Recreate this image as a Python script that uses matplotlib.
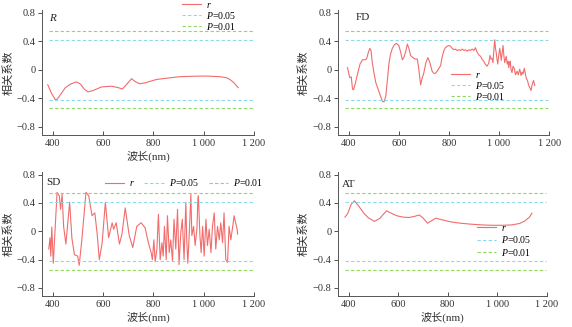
import matplotlib
matplotlib.use("Agg")
import matplotlib.pyplot as plt

plt.rcParams['font.family'] = ['Liberation Serif', 'Noto Sans CJK SC']
plt.rcParams['mathtext.fontset'] = 'custom'
plt.rcParams['mathtext.it'] = 'Liberation Serif:italic'
plt.rcParams['mathtext.rm'] = 'Liberation Serif'
plt.rcParams['axes.unicode_minus'] = True

# 数据
r_wl = [380, 395, 410, 418, 430, 450, 470, 494, 510, 525,
        540, 560, 594, 634, 660, 677, 695, 713, 730, 746,
        770, 813, 860, 905, 960, 1012, 1065, 1090, 1104, 1120,
        1137]
r_r = [-0.21, -0.33, -0.42, -0.41, -0.35, -0.25, -0.20, -0.17, -0.20, -0.27,
       -0.31, -0.29, -0.24, -0.23, -0.25, -0.27, -0.20, -0.125, -0.17, -0.196,
       -0.18, -0.135, -0.115, -0.097, -0.09, -0.088, -0.097, -0.11, -0.135, -0.18,
       -0.25]

fd_wl = [395, 404, 410, 415, 419, 427, 435, 445, 455, 463,
         471, 478, 484, 489, 494, 500, 508, 520, 534, 541,
         548, 554, 561, 567, 574, 582, 590, 600, 607, 614,
         620, 627, 634, 640, 647, 653, 660, 667, 674, 680,
         687, 693, 700, 708, 716, 724, 733, 740, 746, 755,
         767, 773, 780, 786, 793, 800, 806, 813, 820, 826,
         833, 840, 846, 853, 860, 866, 873, 880, 886, 893,
         900, 906, 912, 919, 926, 932, 939, 945, 952, 959,
         964, 968, 972, 976, 980, 983, 986, 989, 992, 995,
         999, 1003, 1006, 1009, 1013, 1016, 1020, 1023, 1026, 1029,
         1033, 1036, 1039, 1042, 1045, 1048, 1052, 1056, 1061, 1066,
         1072, 1077, 1083, 1088, 1092, 1096, 1101, 1105, 1109, 1114,
         1118, 1123, 1128, 1133, 1138, 1143]
fd_r = [0.03, -0.11, -0.10, -0.27, -0.28, -0.18, -0.06, 0.08, 0.14, 0.14,
        0.15, 0.24, 0.30, 0.27, 0.10, -0.03, -0.18, -0.30, -0.44, -0.45,
        -0.37, -0.15, 0.10, 0.22, 0.30, 0.35, 0.37, 0.34, 0.25, 0.14,
        0.17, 0.25, 0.36, 0.30, 0.20, 0.18, 0.16, 0.15, 0.15, 0.00,
        -0.21, -0.12, -0.04, 0.10, 0.17, 0.10, -0.02, -0.05, -0.05, -0.01,
        0.06, 0.18, 0.27, 0.31, 0.33, 0.34, 0.33, 0.30, 0.28, 0.29,
        0.27, 0.28, 0.27, 0.29, 0.27, 0.28, 0.26, 0.28, 0.27, 0.29,
        0.27, 0.31, 0.25, 0.21, 0.19, 0.15, 0.12, 0.08, 0.05, 0.09,
        0.20, 0.15, 0.16, 0.10, 0.30, 0.42, 0.30, 0.24, 0.15, 0.08,
        0.20, 0.30, 0.22, 0.13, 0.25, 0.34, 0.18, 0.10, 0.15, 0.19,
        0.08, 0.12, 0.03, 0.09, 0.12, 0.00, -0.04, 0.05, 0.02, -0.07,
        -0.02, -0.07, 0.01, -0.08, -0.03, -0.06, 0.02, -0.05, -0.12, -0.15,
        -0.21, -0.25, -0.29, -0.20, -0.15, -0.22]

sd_wl = [384, 389, 392, 396, 402, 411, 417, 426, 431, 437,
         443, 452, 467, 476, 486, 499, 505, 516, 532, 543,
         556, 567, 576, 585, 596, 609, 622, 636, 642, 652,
         665, 675, 688, 704, 718, 734, 751, 767, 780, 791,
         796, 802, 807, 814, 820, 827, 834, 839, 844, 851,
         856, 863, 869, 876, 882, 889, 896, 902, 909, 915,
         922, 929, 933, 937, 944, 949, 953, 960, 966, 973,
         977, 979, 985, 990, 996, 1002, 1009, 1015, 1022, 1029,
         1035, 1042, 1048, 1055, 1062, 1068, 1075, 1081, 1088, 1095,
         1101, 1108, 1114, 1121, 1127, 1133, 1135]
sd_r = [-0.25, -0.09, -0.35, 0.06, -0.45, 0.15, 0.55, 0.50, 0.31, 0.52,
        0.07, -0.18, 0.41, -0.10, -0.33, -0.35, -0.48, -0.10, 0.55, 0.50,
        0.22, 0.26, -0.02, -0.40, -0.17, 0.41, -0.09, 0.12, 0.03, 0.12,
        -0.18, -0.04, 0.33, -0.06, -0.23, 0.07, 0.12, 0.05, -0.16, -0.30,
        -0.40, -0.12, -0.43, -0.25, 0.24, -0.40, -0.16, -0.35, 0.07, -0.40,
        0.22, -0.30, -0.12, -0.42, 0.17, -0.25, 0.31, -0.47, -0.02, 0.17,
        -0.40, 0.41, -0.16, -0.45, 0.07, 0.52, -0.06, 0.07, -0.20, 0.03,
        0.45, 0.50, -0.06, -0.30, 0.07, -0.35, 0.17, -0.20, 0.03, -0.30,
        0.07, 0.26, -0.25, 0.07, -0.12, 0.12, -0.16, 0.26, -0.40, -0.44,
        0.07, -0.12, 0.03, 0.22, 0.12, 0.03, -0.04]

at_wl = [385, 396, 410, 423, 440, 461, 480, 504, 525, 553,
         575, 596, 620, 644, 665, 685, 700, 719, 735, 752,
         780, 813, 850, 895, 940, 976, 1020, 1058, 1090, 1112,
         1130, 1140]
at_r = [0.20, 0.25, 0.38, 0.43, 0.36, 0.256, 0.19, 0.14, 0.18, 0.29,
        0.25, 0.218, 0.20, 0.195, 0.21, 0.23, 0.19, 0.114, 0.15, 0.185,
        0.16, 0.133, 0.115, 0.10, 0.09, 0.085, 0.085, 0.09, 0.11, 0.147,
        0.20, 0.256]

p05 = 0.42
p01 = 0.54
line_x = [385, 1195]

xticks = [400, 600, 800, 1000, 1200]
xticklabels = ['400', '600', '800', '1 000', '1 200']
yticks = [-0.8, -0.4, 0, 0.4, 0.8]
yticklabels = ['\u22120.8', '\u22120.4', '0', '0.4', '0.8']

RED = '#f26c6c'
CYAN = '#8adbe6'
GREEN = '#94d862'

fig = plt.figure(figsize=(5.72, 3.27), dpi=100)

panels = [
    # name, x, y, 位置, 标签位置, legend设置, ylabel位置, 有无xlabel
    ('$R$', r_wl, r_r, [0.0734, 0.5872, 0.3706, 0.3807], (0.035, 0.94),
     dict(ncol=1, loc='upper left', bbox_to_anchor=(0.66, 1.08), labelspacing=0), -0.135, True),
    ('FD', fd_wl, fd_r, [0.5909, 0.5872, 0.3690, 0.3807], (0.085, 0.94),
     dict(ncol=1, loc='upper left', bbox_to_anchor=(0.535, 0.515), labelspacing=0), -0.14, False),
    ('SD', sd_wl, sd_r, [0.0734, 0.0948, 0.3706, 0.3777], (0.022, 0.915),
     dict(ncol=3, loc='center left', bbox_to_anchor=(0.295, 0.915), labelspacing=0), -0.135, True),
    ('AT', at_wl, at_r, [0.5909, 0.0948, 0.3650, 0.3777], (0.02, 0.90),
     dict(ncol=1, loc='upper left', bbox_to_anchor=(0.665, 0.585), labelspacing=0.15), -0.14, True),
]

for name, xs, ys, pos, lab_pos, leg_kw, ylab_x, show_xlabel in panels:
    ax = fig.add_axes(pos)
    ax.plot(xs, ys, color=RED, lw=0.8, label='$r$')
    ax.plot(line_x, [p05, p05], color=CYAN, lw=0.8, ls=(0, (3, 2)), label='$P$=0.05')
    ax.plot(line_x, [-p05, -p05], color=CYAN, lw=0.8, ls=(0, (3, 2)))
    ax.plot(line_x, [p01, p01], color=GREEN, lw=0.8, ls=(0, (3, 2)), label='$P$=0.01')
    ax.plot(line_x, [-p01, -p01], color=GREEN, lw=0.8, ls=(0, (3, 2)))

    ax.set_xlim(357, 1200)
    ax.set_ylim(-0.913, 0.83)
    ax.set_xticks(xticks)
    ax.set_xticklabels(xticklabels)
    ax.set_yticks(yticks)
    ax.set_yticklabels(yticklabels)
    ax.tick_params(axis='x', direction='in', length=3, width=0.6, labelsize=7.5, pad=3, colors='#333333')
    ax.tick_params(axis='y', direction='out', length=3, width=0.6, labelsize=7.5, pad=1.5, colors='#333333')
    for s in ['top', 'right']:
        ax.spines[s].set_visible(False)
    for s in ['left', 'bottom']:
        ax.spines[s].set_linewidth(0.7)
        ax.spines[s].set_color('#555555')

    ax.set_ylabel('相关系数', fontsize=8, color='#333333')
    ax.yaxis.set_label_coords(ylab_x, 0.5)
    if show_xlabel:
        ax.set_xlabel('波长(nm)', fontsize=8, color='#333333', labelpad=2)
    ax.text(lab_pos[0], lab_pos[1], name, transform=ax.transAxes, fontsize=8,
            color='#222222', va='center', ha='left')

    ax.legend(frameon=False, fontsize=7, handlelength=2.0, handletextpad=0.5,
              columnspacing=1.0, borderaxespad=0, borderpad=0, **leg_kw)

fig.savefig('out.png', dpi=100)
